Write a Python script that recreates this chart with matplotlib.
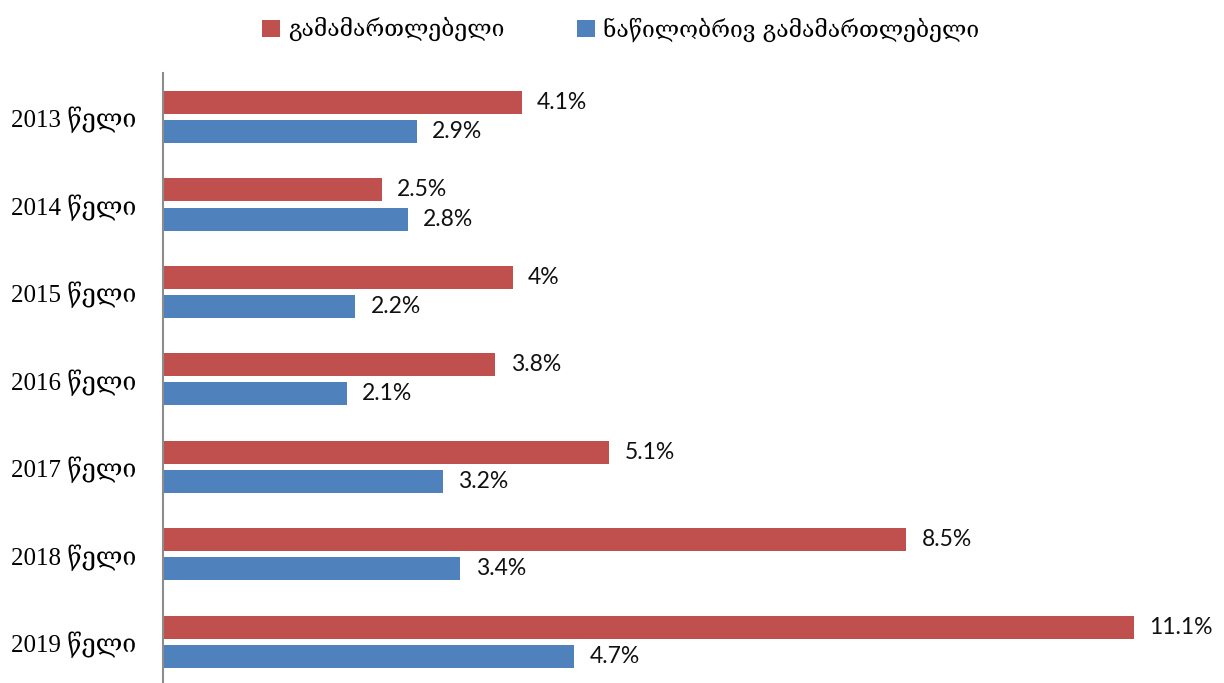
import numpy as np
import matplotlib.pyplot as plt

# მონაცემები
years = ["2013 წელი", "2014 წელი", "2015 წელი", "2016 წელი",
         "2017 წელი", "2018 წელი", "2019 წელი"]
justified = [4.1, 2.5, 4.0, 3.8, 5.1, 8.5, 11.1]
partly = [2.9, 2.8, 2.2, 2.1, 3.2, 3.4, 4.7]
labels_just = ["4.1%", "2.5%", "4%", "3.8%", "5.1%", "8.5%", "11.1%"]
labels_part = ["2.9%", "2.8%", "2.2%", "2.1%", "3.2%", "3.4%", "4.7%"]
series_names = ["გამამართლებელი", "ნაწილობრივ გამამართლებელი"]

red = "#c0504d"
blue = "#4f81bd"

fig = plt.figure(figsize=(12.24, 6.83), dpi=100)
ax = fig.add_axes([163 / 1224, 0, 1 - 163 / 1224, 610 / 683])

y = np.arange(len(years))
h = 0.263
off = 0.166

b1 = ax.barh(y - off, justified, height=h, color=red, label=series_names[0])
b2 = ax.barh(y + off, partly, height=h, color=blue, label=series_names[1])

for bars, labs in ((b1, labels_just), (b2, labels_part)):
    for bar, lab in zip(bars, labs):
        ax.annotate(lab, (bar.get_width(), bar.get_y() + bar.get_height() / 2),
                    xytext=(11, 0), textcoords="offset points",
                    ha="left", va="center", fontsize=16.5,
                    family=["Lato", "DejaVu Sans"], color="#111111")

ax.set_xlim(0, 12.13)
ax.set_ylim(6.47, -0.503)
ax.set_yticks(y)
ax.set_yticklabels(years, family=["Liberation Serif", "DejaVu Serif"], fontsize=18)
ax.tick_params(axis="y", length=0, pad=19)
ax.set_xticks([])

for s in ("top", "right", "bottom"):
    ax.spines[s].set_visible(False)
ax.spines["left"].set_color("#8c8c8c")
ax.spines["left"].set_linewidth(1.5)

fig.legend(handles=[b1, b2], labels=series_names, loc="upper center",
           bbox_to_anchor=(0.507, 1.005), ncol=2, frameon=False,
           prop={"family": ["DejaVu Serif"], "size": 16.5},
           handlelength=0.75, handleheight=0.75, columnspacing=3.2,
           handletextpad=0.35)

fig.savefig("out.png", dpi=100)
